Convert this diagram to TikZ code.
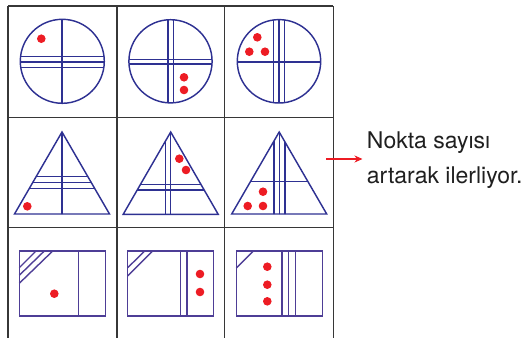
\documentclass[tikz,border=0pt]{standalone}
\usepackage{fontspec}
\setmainfont{TeX Gyre Heros}
\usetikzlibrary{arrows.meta}
\definecolor{gridgray}{RGB}{55,55,55}
\definecolor{shapeblue}{RGB}{46,49,146}
\definecolor{rectpurple}{RGB}{78,62,150}
\definecolor{dotred}{RGB}{237,28,36}
\tikzset{
  gridline/.style={draw=gridgray, line width=1.6pt},
  shapeline/.style={draw=shapeblue, line width=1.45pt},
  rectline/.style={draw=rectpurple, line width=1.4pt},
  reddot/.style={fill=dotred, draw=none},
  label/.style={font=\fontsize{23}{28}\selectfont, text=black!88, inner sep=0pt},
}
\begin{document}
\begin{tikzpicture}[x=1pt,y=-1pt]
\useasboundingbox (0,0) rectangle (531,338);
% grid
\foreach \x in {8,116.7,224.3,333.3} \draw[gridline] (\x,6) -- (\x,338);
\foreach \y in {6,117.3,227.3} \draw[gridline] (8,\y) -- (333.3,\y);

% ---- row 1: circles
% circle 1
\begin{scope}
  \clip (62.3,61.3) circle [radius=42pt];
  \draw[shapeline] (62,0) -- (62,120);
  \foreach \y in {56.7,62,67.3} \draw[shapeline] (0,\y) -- (120,\y);
\end{scope}
\draw[shapeline] (62.3,61.3) circle [radius=42pt];
\fill[reddot] (41.3,38.7) circle [radius=4.3pt];
% circle 2
\begin{scope}
  \clip (170.5,61.3) circle [radius=41.6pt];
  \foreach \x in {168,173.3} \draw[shapeline] (\x,0) -- (\x,120);
  \foreach \y in {59.3,64} \draw[shapeline] (110,\y) -- (230,\y);
\end{scope}
\draw[shapeline] (170.5,61.3) circle [radius=41.6pt];
\fill[reddot] (184,77.3) circle [radius=4.3pt];
\fill[reddot] (184,90) circle [radius=4.3pt];
% circle 3
\begin{scope}
  \clip (279,61.3) circle [radius=41.7pt];
  \foreach \x in {273.3,279,284.7} \draw[shapeline] (\x,0) -- (\x,120);
  \draw[shapeline] (220,62) -- (340,62);
\end{scope}
\draw[shapeline] (279,61.3) circle [radius=41.7pt];
\fill[reddot] (257.3,37.3) circle [radius=4.3pt];
\fill[reddot] (249.3,51.7) circle [radius=4.3pt];
\fill[reddot] (265,51.7) circle [radius=4.3pt];

% ---- row 2: triangles
% triangle 1
\begin{scope}
  \clip (62,132) -- (14.5,214) -- (109.5,214) -- cycle;
  \draw[shapeline] (62,120) -- (62,220);
  \foreach \y in {176.7,182.7,188.7} \draw[shapeline] (0,\y) -- (120,\y);
\end{scope}
\draw[shapeline, line join=miter] (62,132) -- (14.5,214) -- (109.5,214) -- cycle;
\fill[reddot] (27.3,206.3) circle [radius=4.3pt];
% triangle 2
\begin{scope}
  \clip (170.7,132) -- (123.2,214.3) -- (218.2,214.3) -- cycle;
  \foreach \x in {165.3,170.7} \draw[shapeline] (\x,120) -- (\x,220);
  \foreach \y in {184.7,190} \draw[shapeline] (110,\y) -- (230,\y);
\end{scope}
\draw[shapeline, line join=miter] (170.7,132) -- (123.2,214.3) -- (218.2,214.3) -- cycle;
\fill[reddot] (179.3,158.7) circle [radius=4.3pt];
\fill[reddot] (186,170) circle [radius=4.3pt];
% triangle 3
\begin{scope}
  \clip (279.2,132) -- (231.7,214) -- (326.7,214) -- cycle;
  \foreach \x in {274,279.3,285} \draw[shapeline] (\x,120) -- (\x,220);
  \draw[shapeline] (220,181.7) -- (340,181.7);
\end{scope}
\draw[shapeline, line join=miter] (279.2,132) -- (231.7,214) -- (326.7,214) -- cycle;
\fill[reddot] (263,191.7) circle [radius=4.3pt];
\fill[reddot] (247.7,206) circle [radius=4.3pt];
\fill[reddot] (263,206) circle [radius=4.3pt];

% ---- row 3: rectangles
% rectangle 1
\draw[rectline] (19.3,251) rectangle (105.3,316);
\draw[rectline] (78.7,251) -- (78.7,316);
\draw[rectline] (19.3,267.7) -- (36,251);
\draw[rectline] (19.3,275.3) -- (44.3,251);
\draw[rectline] (19.3,283.3) -- (52.7,251);
\fill[reddot] (54.3,293.7) circle [radius=4.3pt];
% rectangle 2
\draw[rectline] (127.7,251) rectangle (213.3,316);
\foreach \x in {180.7,187} \draw[rectline] (\x,251) -- (\x,316);
\draw[rectline] (127.7,267.7) -- (144.7,251);
\draw[rectline] (127.7,276) -- (152.7,251);
\fill[reddot] (200,274) circle [radius=4.3pt];
\fill[reddot] (200,292) circle [radius=4.3pt];
% rectangle 3
\draw[rectline] (236.3,251) rectangle (322.3,316);
\foreach \x in {282,288.7,295.3} \draw[rectline] (\x,251) -- (\x,316);
\draw[rectline] (236.3,268) -- (253.3,251);
\fill[reddot] (267.3,266.7) circle [radius=4.3pt];
\fill[reddot] (267.3,284.7) circle [radius=4.3pt];
\fill[reddot] (267.3,301.3) circle [radius=4.3pt];

% ---- arrow and text
\coordinate (arrA) at (326,159);
\coordinate (arrB) at (362.5,159);
\draw[draw=dotred, line width=1.2pt, -{Stealth[length=8pt,width=7pt,inset=2.5pt]}] (arrA) -- (arrB);
\node[label, anchor=base west] (t1) at (366.7,148.3) {Nokta sayısı};
\node[label, anchor=base west] (t2) at (366.7,183.3) {artarak ilerliyor.};
\end{tikzpicture}
\end{document}
